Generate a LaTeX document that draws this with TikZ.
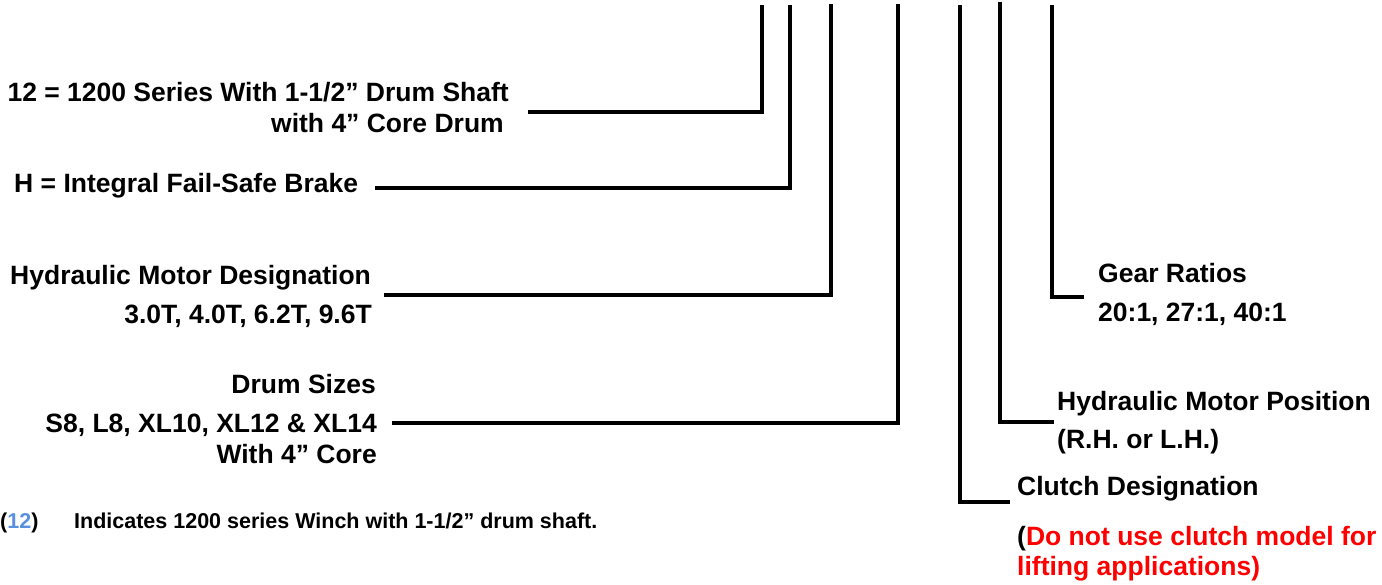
\documentclass[tikz,border=0pt]{standalone}
\usepackage{fontspec}
\setmainfont{Liberation Sans}
\definecolor{noteblue}{HTML}{5B8FE0}
\definecolor{warnred}{HTML}{FF0000}
\begin{document}
\begin{tikzpicture}[x=1pt,y=-1pt,
  lbl/.style={inner sep=0pt,font=\fontsize{26.5}{30}\selectfont\bfseries},
  note/.style={inner sep=0pt,font=\fontsize{21.5}{25}\selectfont\bfseries},
  lead/.style={line width=4.5pt,line cap=butt,line join=miter}]
\useasboundingbox (0,0) rectangle (1382,585);
\clip (0,0) rectangle (1382,585);
% left labels
\node[lbl,anchor=base east] (t1a) at (509,102) {12 = 1200 Series With 1-1/2” Drum Shaft};
\node[lbl,anchor=base east] (t1b) at (504,133) {with 4” Core Drum};
\node[lbl,anchor=base west] (t2) at (14,193) {H = Integral Fail-Safe Brake};
\node[lbl,anchor=base west] (t3a) at (10,285) {Hydraulic Motor Designation};
\node[lbl,anchor=base east] (t3b) at (372,324) {3.0T, 4.0T, 6.2T, 9.6T};
\node[lbl,anchor=base east] (t4a) at (376,393) {Drum Sizes};
\node[lbl,anchor=base east] (t4b) at (377,432) {S8, L8, XL10, XL12 \& XL14};
\node[lbl,anchor=base east] (t4c) at (377,463) {With 4” Core};
% footnote
\node[note,anchor=base west] (fn1) at (0,528) {(\textcolor{noteblue}{12})};
\node[note,anchor=base west] (fn2) at (74,528) {Indicates 1200 series Winch with 1-1/2” drum shaft.};
% right labels
\node[lbl,anchor=base west] (t7a) at (1098,283) {Gear Ratios};
\node[lbl,anchor=base west] (t7b) at (1098,322) {20:1, 27:1, 40:1};
\node[lbl,anchor=base west] (t6a) at (1057,410) {Hydraulic Motor Position};
\node[lbl,anchor=base west] (t6b) at (1057,448) {(R.H. or L.H.)};
\node[lbl,anchor=base west] (t5a) at (1017,495) {Clutch Designation};
\node[lbl,anchor=base west] (t5b) at (1017,545) {(\textcolor{warnred}{Do not use clutch model for}};
\node[lbl,anchor=base west,text=warnred] (t5c) at (1017,575) {lifting applications)};
% leader ends
\coordinate (v1) at (762,5);  \coordinate (h1) at (528,112);
\coordinate (v2) at (790,5);  \coordinate (h2) at (375,188);
\coordinate (v3) at (831,4);  \coordinate (h3) at (384,295);
\coordinate (v4) at (898,4);  \coordinate (h4) at (392,423);
\coordinate (v5) at (960,5);  \coordinate (h5) at (1010,502);
\coordinate (v6) at (1000,2); \coordinate (h6) at (1054,422);
\coordinate (v7) at (1052,5); \coordinate (h7) at (1084,297);
\foreach \i in {1,...,7} \draw[lead] (v\i) |- (h\i);
\end{tikzpicture}
\end{document}
